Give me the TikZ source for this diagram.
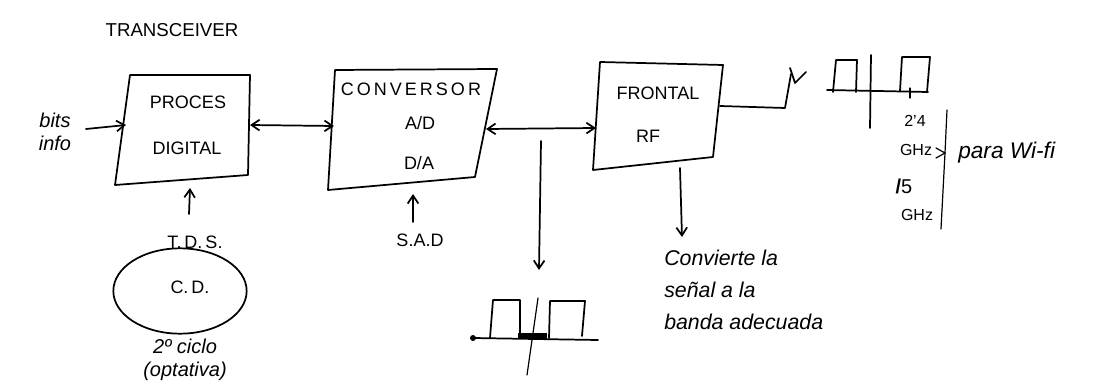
\documentclass[tikz,border=0pt]{standalone}
\usepackage{fontspec}
\setmainfont{Liberation Sans}
\usetikzlibrary{arrows.meta,shapes.geometric}
\tikzset{
  ink/.style={line width=1.3pt, line cap=round, line join=round},
  blockbox/.style={ink, draw},
  arr/.style={ink, -{Straight Barb[length=6pt,width=8pt]}},
  darr/.style={ink, {Straight Barb[length=6pt,width=8pt]}-{Straight Barb[length=6pt,width=8pt]}},
  lbl/.style={font=\fontsize{13.5}{15}\selectfont, inner sep=0pt},
  note/.style={font=\itshape\fontsize{15}{17}\selectfont, inner sep=0pt, align=left},
  thin/.style={line width=0.9pt, line cap=round}
}
\begin{document}
\begin{tikzpicture}[x=0.75pt,y=-0.75pt]
\useasboundingbox (0,0) rectangle (1108,392);

% title
\node[lbl, font=\fontsize{14}{16}\selectfont] (title) at (172,30) {TRANSCEIVER};

% block 1
\draw[blockbox] (130,75) -- (250,75) -- (248,175) -- (115,185) -- cycle;
\coordinate (b1w) at (126,125);
\coordinate (b1e) at (250,125);
\coordinate (b1s) at (190,188);
\node[lbl] (p1) at (188,102) {PROCES};
\node[lbl] (p2) at (187,148) {DIGITAL};

% bits info
\node[note, align=center] (bits) at (55,132) {bits\\info};
\coordinate (bitsend) at (86,129);
\draw[arr] (bitsend) -- (b1w);

% block 2
\draw[blockbox] (335,70) -- (497,69) -- (475,177) -- (328,190) -- cycle;
\coordinate (b2w) at (334,126);
\coordinate (b2e) at (486,129);
\coordinate (b2s) at (413,194);
\node[lbl] (c1) at (411,89) {C\,O\,N\,V\,E\,R\,S\,O\,R};
\node[lbl] (c2) at (420,123) {A/D};
\node[lbl] (c3) at (419,163) {D/A};

\draw[darr] (b1e) -- (b2w);

% block 3
\draw[blockbox] (600,62) -- (723,65) -- (713,157) -- (593,170) -- cycle;
\coordinate (b3w) at (596,128);
\coordinate (b3e) at (720,106);
\coordinate (b3s) at (680,168);
\node[lbl] (f1) at (658,93) {FRONTAL};
\node[lbl] (f2) at (648,136) {RF};

\draw[darr] (b2e) -- (b3w);

% tap arrow down to lower spectrum
\coordinate (tap) at (541,141);
\coordinate (tapend) at (539,270);
\draw[arr] (tap) -- (tapend);

% lower spectrum
\coordinate (ls0) at (473,338);
\coordinate (ls1) at (598,340);
\fill (ls0) circle (3);
\draw[ink] (ls0) -- (ls1);
\draw[ink] (490,338) -- (493,300) -- (520,300) -- (520,338);
\draw[ink] (549,338) -- (550,301) -- (585,301) -- (582,336);
\draw[line width=4pt] (518,336) -- (547,336);
\draw[thin] (538,298) -- (527,375);

% S.A.D arrow
\node[lbl] (sad) at (420,240) {S.A.D};
\draw[arr] (413,222) -- (b2s);

% T.D.S arrow and ellipse
\node[lbl] (tds) at (195,242) {T.\,D.\,S.};
\draw[arr] (189,214) -- (b1s);
\node[ellipse, draw, ink, minimum width=100, minimum height=64, inner sep=0pt] (cd) at (180,291) {};
\node[lbl] (cdt) at (190,287) {C.\,D.};
\node[note, align=center] (ciclo) at (185,360) {2º ciclo\\(optativa)};

% antenna
\coordinate (ant1) at (785,108);
\coordinate (ant2) at (791,74);
\draw[ink] (b3e) -- (ant1) -- (ant2);
\draw[ink] (790,68) -- (795,83) -- (806,72);

% RF arrow down + note
\draw[arr] (b3s) -- (682,237);
\node[note, font=\itshape\fontsize{16}{18}\selectfont, anchor=north west] (conv) at (664,250) {Convierte la\\[6pt]señal a la\\[6pt]banda adecuada};

% upper spectrum
\draw[ink] (827,90) -- (928,92);
\draw[ink] (833,92) -- (836,60) -- (857,60) -- (856,92);
\draw[ink] (900,91) -- (902,57) -- (930,57) -- (927,92);
\draw[ink] (871,55) -- (870,128);
\draw[thin] (910,88) -- (910,98);

% frequency labels
\node[lbl, font=\fontsize{12}{14}\selectfont] (g1) at (915,121) {2'4};
\node[lbl, font=\fontsize{12}{14}\selectfont] (g2) at (916,150) {GHz};
\node[lbl, font=\fontsize{15}{17}\selectfont] (g3) at (904,186) {\textbf{/}5};
\node[lbl, font=\fontsize{12}{14}\selectfont] (g4) at (917,215) {GHz};
\coordinate (br1) at (947,110);
\coordinate (brm) at (945,153);
\coordinate (br2) at (941,229);
\draw[thin] (br1) -- (brm) -- (br2);
\draw[thin] (936,148) -- (945,153) -- (936,158);
\node[note, font=\itshape\fontsize{17}{19}\selectfont, anchor=west] (wifi) at (958,153) {para Wi-fi};
\end{tikzpicture}
\end{document}
